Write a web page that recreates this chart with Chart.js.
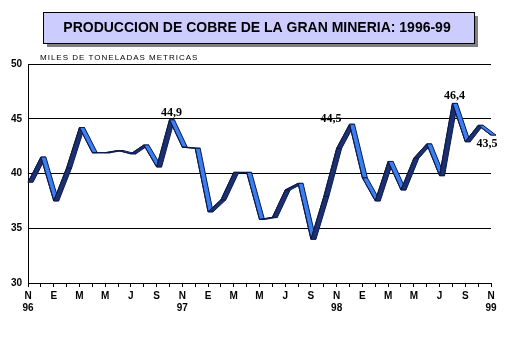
<!DOCTYPE html>
<html>
<head>
<meta charset="utf-8">
<script src="https://cdn.jsdelivr.net/npm/chart.js@4.4.1/dist/chart.umd.min.js"></script>
<style>
html, body { margin: 0; padding: 0; background: #fff; }
</style>
</head>
<body>
<canvas id="cobre" width="506" height="339"></canvas>
<script>
// produccion mensual, nov 1996 - nov 1999 (miles de toneladas)
var meses = ['N','D','E','F','M','A','M','J','J','A','S','O',
             'N','D','E','F','M','A','M','J','J','A','S','O',
             'N','D','E','F','M','A','M','J','J','A','S','O','N'];
var produccion = [39.2, 41.5, 37.5, 40.5, 44.2, 41.9, 41.9, 42.1, 41.8, 42.6, 40.6, 44.9,
                  42.4, 42.3, 36.5, 37.6, 40.1, 40.1, 35.8, 36.0, 38.5, 39.1, 34.0, 37.9,
                  42.3, 44.5, 39.6, 37.5, 41.1, 38.5, 41.4, 42.7, 39.8, 46.4, 42.9, 44.4, 43.5];
var anios = {0: '96', 12: '97', 24: '98', 36: '99'};
var etiquetados = [11, 25, 33, 36];
var yTicks = [30, 35, 40, 45, 50];

var titulo = 'PRODUCCION DE COBRE DE LA GRAN MINERIA: 1996-99';
var unidad = 'MILES DE TONELADAS METRICAS';

var xLabels = meses.map(function (m, i) {
    if (i % 2 == 1) return '';
    if (anios[i]) return [m, anios[i]];
    return m;
});

var oscuro = '#1c3070';
var claro = '#3b7ef2';

// caja del titulo y texto de unidades
var marco = {
    id: 'marco',
    beforeDraw: function (chart) {
        var ctx = chart.ctx;
        ctx.save();
        ctx.fillStyle = '#fff';
        ctx.fillRect(0, 0, chart.width, chart.height);
        ctx.fillStyle = '#7f7f7f';
        ctx.fillRect(47, 16, 431, 31);
        ctx.fillStyle = '#ccccff';
        ctx.fillRect(43, 12, 431, 31);
        ctx.strokeStyle = '#000';
        ctx.lineWidth = 1;
        ctx.strokeRect(43.5, 12.5, 431, 31);
        ctx.fillStyle = '#000';
        ctx.font = 'bold 14px "Liberation Sans", Arial, sans-serif';
        ctx.textAlign = 'center';
        ctx.textBaseline = 'middle';
        ctx.fillText(titulo, 257, 28);
        ctx.font = '8px "Liberation Sans", Arial, sans-serif';
        ctx.letterSpacing = '1px';
        ctx.textAlign = 'left';
        ctx.textBaseline = 'alphabetic';
        ctx.fillText(unidad, 40, 60);
        ctx.restore();
    }
};

// cinta 3D de la linea
var cinta = {
    id: 'cinta',
    beforeDatasetsDraw: function (chart) {
        var ctx = chart.ctx;
        var pts = chart.getDatasetMeta(0).data;
        var d = 5;
        ctx.save();
        ctx.lineWidth = 1;
        ctx.strokeStyle = '#0c1a4a';
        for (var i = 0; i < pts.length - 1; i++) {
            var a = pts[i], b = pts[i + 1];
            ctx.beginPath();
            ctx.moveTo(a.x, a.y);
            ctx.lineTo(b.x, b.y);
            ctx.lineTo(b.x + d, b.y);
            ctx.lineTo(a.x + d, a.y);
            ctx.closePath();
            ctx.fillStyle = produccion[i + 1] > produccion[i] ? oscuro : claro;
            ctx.fill();
            ctx.stroke();
        }
        ctx.restore();
    },
    afterDatasetsDraw: function (chart) {
        var ctx = chart.ctx;
        var pts = chart.getDatasetMeta(0).data;
        ctx.save();
        ctx.fillStyle = '#000';
        ctx.font = 'bold 12px "Liberation Serif", "Times New Roman", serif';
        ctx.textBaseline = 'alphabetic';
        etiquetados.forEach(function (i) {
            var p = pts[i];
            var txt = produccion[i].toFixed(1).replace('.', ',');
            if (i == 36) {
                ctx.textAlign = 'center';
                ctx.fillText(txt, p.x - 4, p.y + 12);
            } else if (i == 25) {
                ctx.textAlign = 'right';
                ctx.fillText(txt, p.x - 8, p.y - 2);
            } else {
                ctx.textAlign = 'center';
                ctx.fillText(txt, p.x + 2, p.y - 4);
            }
        });
        ctx.restore();
    }
};

var ctx = document.getElementById('cobre').getContext('2d');
var grafico = new Chart(ctx, {
    type: 'line',
    data: {
        labels: xLabels,
        datasets: [{
            label: 'Produccion',
            data: produccion,
            borderColor: '#0c1a4a',
            borderWidth: 1,
            pointRadius: 0,
            tension: 0,
            fill: false
        }]
    },
    options: {
        responsive: false,
        animation: false,
        devicePixelRatio: 1,
        layout: { padding: { left: 0, top: 64, right: 15, bottom: 0 } },
        plugins: {
            legend: { display: false },
            tooltip: { enabled: false }
        },
        scales: {
            x: {
                offset: false,
                grid: { drawOnChartArea: false, drawTicks: true, tickLength: 4, color: '#000' },
                border: { display: true, color: '#000', width: 1 },
                ticks: {
                    autoSkip: false, maxRotation: 0, minRotation: 0, padding: 3,
                    color: '#000',
                    font: { family: '"Liberation Sans", Arial, sans-serif', size: 10, weight: 'bold', lineHeight: 1.2 }
                },
                afterFit: function (s) { s.height = 56; }
            },
            y: {
                min: 30, max: 50,
                afterBuildTicks: function (s) { s.ticks = yTicks.map(function (v) { return { value: v }; }); },
                grid: { color: '#000', drawTicks: false, lineWidth: 1 },
                border: { display: true, color: '#000', width: 1 },
                ticks: {
                    padding: 6, color: '#000',
                    font: { family: '"Liberation Sans", Arial, sans-serif', size: 10, weight: 'bold' }
                },
                afterFit: function (s) { s.width = 28; }
            }
        }
    },
    plugins: [marco, cinta]
});
</script>
</body>
</html>
